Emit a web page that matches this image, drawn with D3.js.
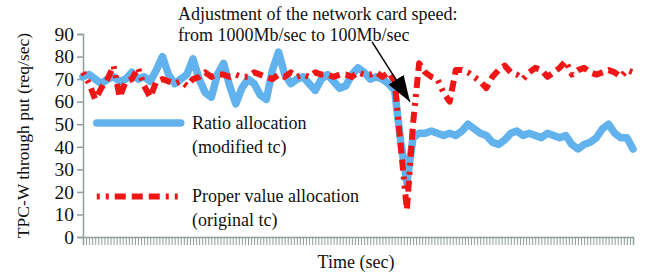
<!DOCTYPE html>
<html>
<head>
<meta charset="utf-8">
<script src="https://cdn.jsdelivr.net/npm/d3@7"></script>
<style>
  body { margin: 0; background: #fff; }
  text { font-family: "Liberation Serif", "Times New Roman", serif; fill: #111; }
</style>
</head>
<body>
<div id="chart"></div>
<script>
// sample every 2 sec, 0..180
const times = d3.range(0, 181, 2);

const ratioAlloc = [71, 72, 70, 68, 70, 71, 69, 70, 73, 70, 71, 69, 74, 80, 72, 68, 70, 72, 79, 70,
  64, 62, 72, 77, 67, 59, 66, 70, 68, 63, 61, 74, 82, 72, 68, 70, 71, 68, 65, 70,
  72, 69, 66, 67, 72, 75, 73, 70, 71, 70, 68, 65, 42, 24, 44, 46, 46, 47, 46, 45,
  46, 45, 47, 50, 48, 46, 45, 42, 41, 43, 46, 47, 45, 46, 45, 44, 46, 45, 44, 45,
  41, 39, 41, 42, 44, 48, 50, 46, 44, 44, 39];

const properAlloc = [73, 68, 61, 66, 70, 76, 62, 69, 70, 75, 67, 62, 69, 70, 69, 68, 69, 67, 70, 71,
  73, 71, 72, 72, 71, 72, 71, 71, 73, 72, 71, 70, 72, 71, 73, 71, 72, 71, 73, 72,
  72, 71, 72, 72, 71, 73, 72, 72, 73, 71, 73, 69, 40, 12, 50, 77, 73, 71, 70, 64,
  60, 74, 74, 73, 71, 69, 66, 71, 74, 76, 73, 72, 70, 73, 75, 74, 71, 73, 75, 78,
  72, 74, 75, 73, 72, 73, 74, 73, 71, 74, 73];

const yTicks = [0, 10, 20, 30, 40, 50, 60, 70, 80, 90];
const seriesNames = ["Ratio allocation", "Proper value allocation"];
const seriesNotes = ["(modified tc)", "(original tc)"];
const noteLines = ["Adjustment of the network card speed:", "from 1000Mb/sec to 100Mb/sec"];

const width = 647, height = 277;
const blue = "#62b2ee", red = "#f01616", axisGray = "#8e9e9c";

const svg = d3.select("#chart").append("svg")
  .attr("width", width).attr("height", height);

const x = d3.scaleLinear().domain([0, 180]).range([83, 633]);
const y = d3.scaleLinear().domain([0, 90]).range([237, 34]);

// y axis
const yAxis = svg.append("g")
  .attr("transform", `translate(${x(0)},0)`)
  .call(d3.axisLeft(y).tickValues(yTicks).tickSize(6).tickPadding(3));
yAxis.select(".domain").attr("stroke", axisGray).attr("stroke-width", 1.5);
yAxis.selectAll(".tick line").attr("stroke", axisGray).attr("stroke-width", 1.5);
yAxis.selectAll(".tick text")
  .style("font-family", "'Liberation Serif', serif")
  .style("font-size", "19.5px").attr("fill", "#111");

// x axis: dense unlabeled ticks every second
const xAxis = svg.append("g")
  .attr("transform", `translate(0,${y(0)})`)
  .call(d3.axisBottom(x).tickValues(d3.range(0, 181, 1)).tickSize(8).tickFormat(""));
xAxis.select(".domain").attr("stroke", axisGray).attr("stroke-width", 1.5);
xAxis.selectAll(".tick line").attr("stroke", axisGray).attr("stroke-width", 1);

// axis titles
svg.append("text")
  .attr("transform", `translate(23,${(y(0) + y(90)) / 2}) rotate(-90)`)
  .attr("text-anchor", "middle")
  .attr("dy", "0.35em")
  .style("font-size", "17.5px")
  .text("TPC-W through put (req/sec)");

svg.append("text")
  .attr("x", (x(0) + x(180)) / 2 - 2)
  .attr("y", 268)
  .attr("text-anchor", "middle")
  .style("font-size", "18px")
  .text("Time (sec)");

// lines
const line = d3.line()
  .x((d, i) => x(times[i]))
  .y(d => y(d));

svg.append("path")
  .datum(ratioAlloc)
  .attr("fill", "none")
  .attr("stroke", blue)
  .attr("stroke-width", 7.5)
  .attr("stroke-linejoin", "round")
  .attr("stroke-linecap", "round")
  .attr("d", line);

const redDash = "3,6,3,6,11,6,11,6,11,6";
svg.append("path")
  .datum(properAlloc)
  .attr("fill", "none")
  .attr("stroke", red)
  .attr("stroke-width", 6)
  .attr("stroke-linejoin", "round")
  .attr("stroke-dasharray", redDash)
  .attr("d", line);

// legend
const legendY = [50.5, 18];
svg.append("line")
  .attr("x1", x(4.5)).attr("x2", x(32))
  .attr("y1", y(legendY[0])).attr("y2", y(legendY[0]))
  .attr("stroke", blue).attr("stroke-width", 7.5).attr("stroke-linecap", "round");
svg.append("line")
  .attr("x1", x(4.5)).attr("x2", x(32))
  .attr("y1", y(legendY[1])).attr("y2", y(legendY[1]))
  .attr("stroke", red).attr("stroke-width", 6).attr("stroke-dasharray", redDash);

seriesNames.forEach((name, i) => {
  svg.append("text")
    .attr("x", 192).attr("y", y(legendY[i]) + 6)
    .style("font-size", "18px")
    .text(name);
  svg.append("text")
    .attr("x", 192).attr("y", y(legendY[i]) + 30)
    .style("font-size", "18px")
    .text(seriesNotes[i]);
});

// annotation
noteLines.forEach((t, i) => {
  svg.append("text")
    .attr("x", 178).attr("y", 20 + i * 21)
    .style("font-size", "18px")
    .text(t);
});

svg.append("defs").append("marker")
  .attr("id", "head")
  .attr("viewBox", "0 0 10 10")
  .attr("refX", 10).attr("refY", 5)
  .attr("markerWidth", 26).attr("markerHeight", 18)
  .attr("markerUnits", "userSpaceOnUse")
  .attr("orient", "auto")
  .attr("preserveAspectRatio", "none")
  .append("path").attr("d", "M0,0 L10,5 L0,10 Z").attr("fill", "#000");

svg.append("line")
  .attr("x1", x(94.6)).attr("y1", y(86.5))
  .attr("x2", x(107)).attr("y2", y(60))
  .attr("stroke", "#000").attr("stroke-width", 1.5)
  .attr("marker-end", "url(#head)");
</script>
</body>
</html>
